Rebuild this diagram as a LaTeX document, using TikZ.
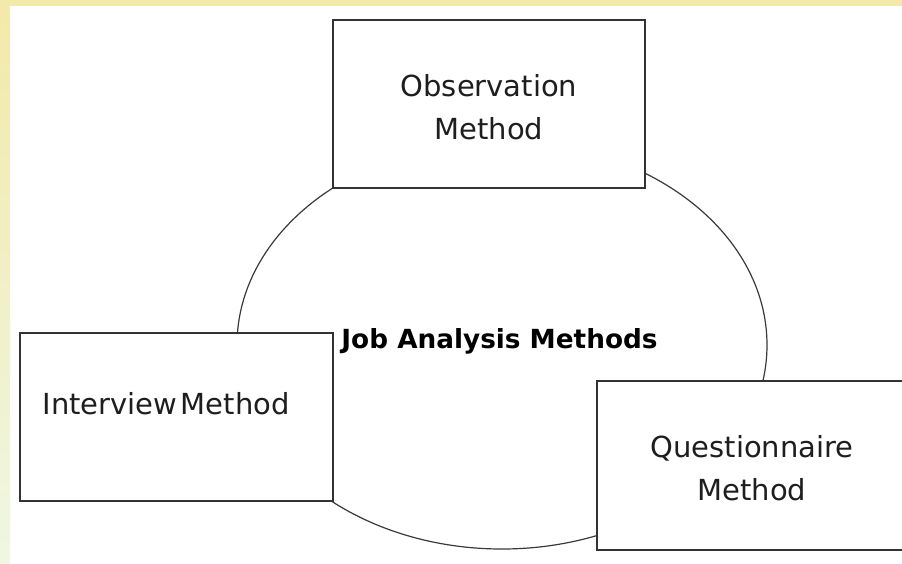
\documentclass[tikz,border=0pt]{standalone}
\usepackage{fontspec}
\setmainfont{DejaVu Sans}
\begin{document}
\begin{tikzpicture}[x=1pt,y=-1pt,
  methodbox/.style={draw=boxline, line width=1.5pt, fill=white, inner sep=0pt},
  label/.style={text=inkgray, font=\fontsize{29}{43}\selectfont, align=center},
  centre/.style={text=black, font=\fontsize{26.3}{30}\selectfont\bfseries}]
  \definecolor{boxline}{HTML}{333333}
  \definecolor{ringline}{HTML}{3A3A3A}
  \definecolor{inkgray}{HTML}{1E1E1E}
  \definecolor{bandyellow}{HTML}{F3E9A8}
  \definecolor{bandgreen}{HTML}{EFF7E3}
  % page and slide border bands
  \useasboundingbox (0,0) rectangle (902,563);
  \fill[white] (0,0) rectangle (902,563);
  \shade[top color=bandyellow, bottom color=bandgreen] (0,563) rectangle (10,0);
  \fill[bandyellow] (0,0) rectangle (902,6);
  % central ellipse
  \draw[ringline, line width=1.2pt] (502,345) ellipse [x radius=265, y radius=204];
  \node[centre] (core) at (499.5,341) {Job Analysis Methods};
  % the three method boxes
  \node[methodbox, minimum width=312pt, minimum height=168pt] (obs) at (489,104) {};
  \node[label] (obstext) at (489,107) {Observation\\Method};
  \node[methodbox, minimum width=313pt, minimum height=168pt] (int) at (176.5,417) {};
  \node[label, anchor=west] (inttext) at (39,404) {Interview\hspace{0.12em}Method};
  \node[methodbox, minimum width=307pt, minimum height=169pt] (que) at (750.5,465.5) {};
  \node[label] (quetext) at (752,468) {Questionnaire\\Method};
\end{tikzpicture}
\end{document}
